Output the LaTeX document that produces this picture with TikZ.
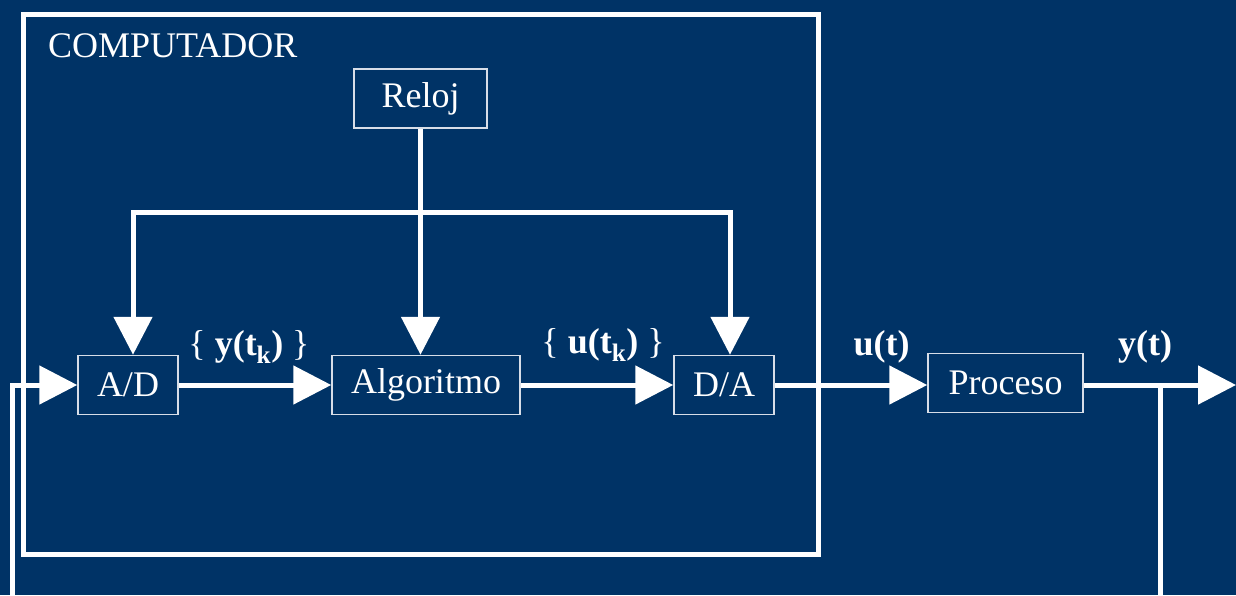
\documentclass[tikz,border=0pt]{standalone}
\usepackage{fontspec}
\setmainfont{Liberation Serif}
\usetikzlibrary{arrows.meta}
\definecolor{fondo}{RGB}{0,51,102}
\definecolor{borde}{RGB}{215,222,232}
\begin{document}
\begin{tikzpicture}[x=1pt,y=-1pt,>={Triangle[length=38pt,width=38pt]},
  linea/.style={white,line width=5pt},
  bloque/.style={draw=borde,line width=1.5pt,text=white,inner sep=0pt,minimum height=59pt,font=\fontsize{36}{40}\selectfont},
  etiq/.style={text=white,anchor=base,font=\fontsize{36}{40}\selectfont\bfseries}]
\fill[fondo](0,0)rectangle(1236,595);
\useasboundingbox(0,0)rectangle(1236,595);

% el computador
\draw[linea](23.5,14)rectangle(818,554.5);
\node(comp) at (48,57)[anchor=base west,text=white,inner sep=0pt,font=\fontsize{36}{40}\selectfont]{COMPUTADOR};

\node(reloj) at (420.5,98.5)[bloque,minimum width=133pt]{Reloj};
\node(ad) at (128,385)[bloque,minimum width=100pt]{A/D};
\node(alg) at (426,385)[bloque,minimum width=188pt]{Algoritmo};
\node(da) at (724,385)[bloque,minimum width=100pt]{D/A};
\node(proc) at (1005.5,383)[bloque,minimum width=155pt]{Proceso};

% reloj
\coordinate(bi) at (133,212);
\coordinate(bd) at (730,212);
\draw[linea,<->](bi|-ad.north)--(bi)--(bd)--(bd|-da.north);
\draw[linea,->](reloj.south)--(reloj.south|-alg.north);

% lazo
\draw[linea,->](ad.east)--(alg.west);
\draw[linea,->](alg.east)--(da.west);
\draw[linea,->](da.east)--(da.east-|proc.west);
\coordinate(sal) at (1236,385);
\draw[linea,->](proc.east|-sal)--(sal);
\coordinate(r) at (1160,385);
\coordinate(rb) at (1160,595);
\draw[linea](r)--(rb);
\coordinate(lb) at (12,595);
\draw[linea,->](lb)--(lb|-ad.west)--(ad.west);

\node(yk) at (249,355)[etiq]{{\mdseries\{} y(t\textsubscript{k}) {\mdseries\}}};
\node(uk) at (603,353)[etiq]{{\mdseries\{} u(t\textsubscript{k}) {\mdseries\}}};
\node(ut) at (881.5,355)[etiq]{u(t)};
\node(yt) at (1145,355)[etiq]{y(t)};
\end{tikzpicture}
\end{document}
